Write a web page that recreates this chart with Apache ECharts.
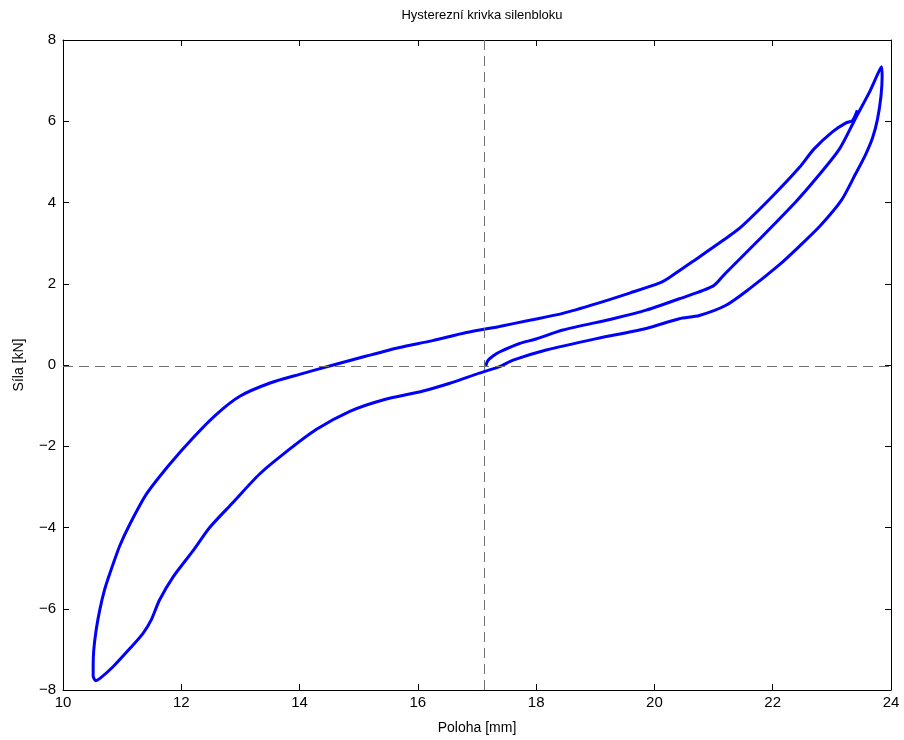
<!DOCTYPE html>
<html>
<head>
<meta charset="utf-8">
<script src="https://cdn.jsdelivr.net/npm/echarts@6/dist/echarts.min.js"></script>
<style>
  html, body { margin: 0; padding: 0; background: #fff; }
  #chart { width: 904px; height: 740px; }
</style>
</head>
<body>
<div id="chart"></div>
<script>
// poloha [mm] a sila [kN], v poradi mereni
const polohaMm = [
  17.15, 17.18, 17.27, 17.38, 17.72, 18.00, 18.45, 19.30, 19.86, 20.42, 20.99, 21.19, 21.78, 22.38, 22.75, 23.13, 23.41, 23.64, 23.78, 23.84,
  23.85, 23.83, 23.77, 23.69, 23.57, 23.40, 23.16, 22.80, 22.45, 22.10, 21.61, 21.21, 20.76, 20.42, 19.86, 19.02, 18.17, 17.61, 17.38, 17.04,
  16.54, 16.09, 15.41, 14.85, 14.28, 13.72, 13.32, 12.87, 12.48, 12.20, 11.86, 11.63, 11.49, 11.35, 11.13, 10.85, 10.62, 10.55, 10.51,
  10.51, 10.52, 10.56, 10.62, 10.70, 10.79, 10.96, 11.13, 11.41, 11.80, 12.20, 12.59, 12.99, 13.49, 14.00, 14.57, 15.13, 15.69, 16.25, 16.82,
  17.38, 17.89, 18.45, 19.02, 19.58, 20.09, 20.26, 20.71, 21.27, 21.49, 22.00, 22.45, 22.70, 23.02, 23.24, 23.35, 23.43
];
const silaKn = [
  -0.02, 0.10, 0.22, 0.32, 0.53, 0.64, 0.86, 1.14, 1.35, 1.63, 1.94, 2.24, 3.10, 4.00, 4.62, 5.32, 6.10, 6.73, 7.18, 7.34,
  7.10, 6.61, 6.04, 5.60, 5.18, 4.70, 4.05, 3.42, 2.92, 2.45, 1.88, 1.47, 1.22, 1.14, 0.90, 0.65, 0.37, 0.12, -0.04, -0.20,
  -0.45, -0.64, -0.86, -1.14, -1.59, -2.20, -2.69, -3.39, -4.00, -4.57, -5.22, -5.79, -6.28, -6.61, -6.98, -7.42, -7.72, -7.77, -7.65,
  -7.42, -7.02, -6.53, -6.04, -5.55, -5.14, -4.45, -3.92, -3.18, -2.45, -1.79, -1.22, -0.77, -0.45, -0.23, 0.00, 0.22, 0.43, 0.60, 0.80,
  0.95, 1.10, 1.27, 1.51, 1.77, 2.02, 2.16, 2.61, 3.18, 3.43, 4.16, 4.86, 5.32, 5.75, 5.96, 6.02, 6.27
];
// pocatecni bod (carkovane cary)
const startPoloha = 17.13;
const startSila = -0.03;

const xTicks = [10, 24, 2];
const yTicks = [-8, 8, 2];

let chart = echarts.init(document.getElementById('chart'));
let font = 'Liberation Sans, Arial, Helvetica, sans-serif';
let minus = v => String(v).replace('-', '\u2212');

let axisCommon = {
  axisLine: { show: true, onZero: false, lineStyle: { color: '#000', width: 1 } },
  axisTick: { show: true, inside: true, length: 6, lineStyle: { color: '#000' } },
  splitLine: { show: false },
  axisLabel: { color: '#000', fontFamily: font, fontSize: 15, formatter: minus }
};

let option = {
  animation: false,
  title: {
    text: 'Hysterezní krivka silenbloku',
    left: 477,
    top: 4,
    textAlign: 'center',
    textStyle: { fontFamily: font, fontSize: 13, fontWeight: 'normal', color: '#000' }
  },
  grid: { left: 63, right: 13, top: 40, bottom: 47 },
  xAxis: [
    Object.assign({}, axisCommon, {
      type: 'value', min: xTicks[0], max: xTicks[1], interval: xTicks[2],
      name: 'Poloha [mm]', nameLocation: 'middle', nameGap: 31,
      nameTextStyle: { fontFamily: font, fontSize: 14, color: '#000' },
      axisLabel: Object.assign({}, axisCommon.axisLabel, { margin: 5 })
    }),
    Object.assign({}, axisCommon, {
      type: 'value', position: 'top', min: xTicks[0], max: xTicks[1], interval: xTicks[2],
      axisLabel: { show: false }
    })
  ],
  yAxis: [
    Object.assign({}, axisCommon, {
      type: 'value', min: yTicks[0], max: yTicks[1], interval: yTicks[2],
      name: 'Síla [kN]', nameLocation: 'middle', nameGap: 37,
      nameTextStyle: { fontFamily: font, fontSize: 14, color: '#000' },
      axisLabel: Object.assign({}, axisCommon.axisLabel, { margin: 7 })
    }),
    Object.assign({}, axisCommon, {
      type: 'value', position: 'right', min: yTicks[0], max: yTicks[1], interval: yTicks[2],
      axisLabel: { show: false }
    })
  ],
  series: [
    {
      type: 'line',
      data: polohaMm.map((x, i) => [x, silaKn[i]]),
      showSymbol: false,
      smooth: 0.25,
      lineStyle: { color: '#0000ff', width: 3 },
      markLine: {
        silent: true,
        symbol: 'none',
        label: { show: false },
        lineStyle: { color: '#707070', type: [10, 6], width: 1 },
        data: [{ xAxis: startPoloha }, { yAxis: startSila }]
      }
    }
  ]
};
chart.setOption(option);
</script>
</body>
</html>
